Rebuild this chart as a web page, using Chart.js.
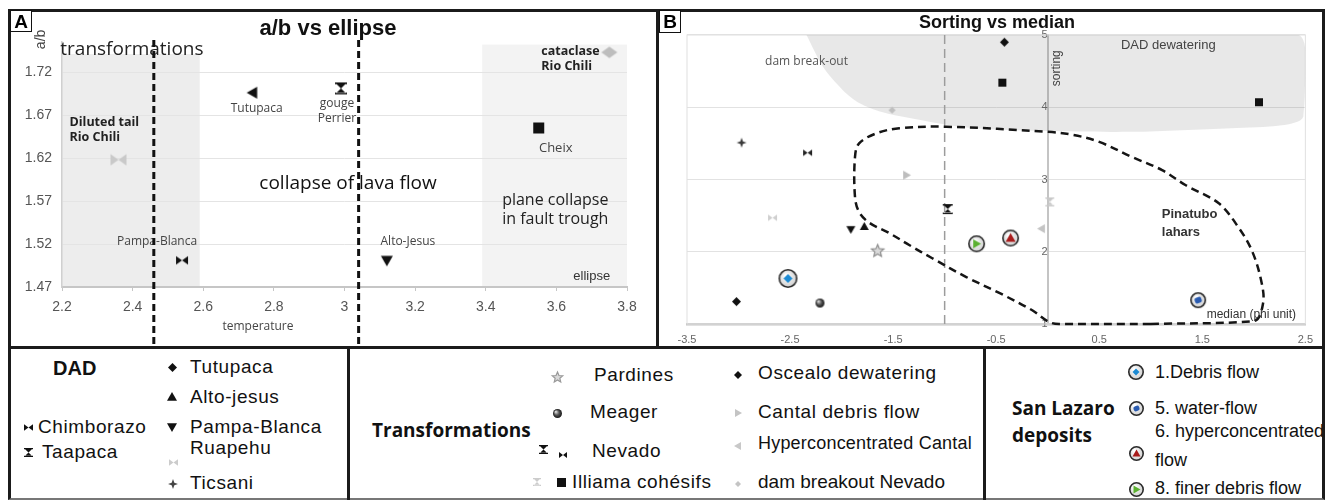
<!DOCTYPE html>
<html lang="en">
<head>
<meta charset="UTF-8">
<title>a/b vs ellipse - Sorting vs median</title>
<script src="https://cdn.jsdelivr.net/npm/chart.js@4.4.0/dist/chart.umd.min.js"></script>
<style>
  body { margin: 0; background: #fff; width: 1333px; height: 502px; position: relative; overflow: hidden;
         font-family: Arial, "Liberation Sans", sans-serif; }
  .frame { position: absolute; left: 8px; top: 9px; width: 1317px; height: 491px; box-sizing: border-box;
           border: 3px solid #1b1b1b; border-bottom: 2px solid #777; z-index: 5; }
  .bar { position: absolute; background: #1b1b1b; z-index: 5; }
  .tag { position: absolute; top: 10px; width: 20px; height: 20px; border: 1.5px solid #111; background: #fff;
         font: bold 19px Arial, sans-serif; line-height: 21px; text-align: center; z-index: 6; }
  .chartbox { position: absolute; top: 12px; height: 334px; }
  .lg { position: absolute; white-space: nowrap; color: #111; font-size: 19px; line-height: 22px; letter-spacing: 0.6px; z-index: 4; }
  .lgi { position: absolute; z-index: 4; }
</style>
</head>
<body>
<div class="frame"></div>
<div class="bar" style="left:8px; top:346px; width:1317px; height:3px;"></div>
<div class="bar" style="left:656px; top:9px; width:3px; height:340px;"></div>
<div class="bar" style="left:347px; top:346px; width:2.5px; height:154px;"></div>
<div class="bar" style="left:983px; top:346px; width:2.5px; height:154px;"></div>
<div class="tag" style="left:10px;">A</div>
<div class="tag" style="left:659px; height:21px;">B</div>

<div class="chartbox" style="left:11px; width:645px;"><canvas id="chartA"></canvas></div>
<div class="chartbox" style="left:659px; width:663px;"><canvas id="chartB"></canvas></div>
<div id="legend"></div>

<script>
    // ---------- panel A : a/b vs ellipse ----------
    const aXTicks = [2.2, 2.4, 2.6, 2.8, 3, 3.2, 3.4, 3.6, 3.8];
    const aYTicks = [1.47, 1.52, 1.57, 1.62, 1.67, 1.72];
    const aNames = ['Diluted tail Rio Chili', 'Pampa-Blanca', 'Tutupaca', 'gouge Perrier', 'Alto-Jesus', 'Cheix', 'cataclase Rio Chili'];
    const aX = [2.36, 2.54, 2.74, 2.99, 3.12, 3.55, 3.75];
    const aY = [1.618, 1.501, 1.696, 1.701, 1.501, 1.655, 1.743];
    // grey domains and dashed limits
    const aBandFrom = [2.2, 3.39];
    const aBandTo = [2.59, 3.8];
    const aBandTop = [1.741, 1.752];
    const aLimits = [2.46, 3.04];

    // ---------- panel B : Sorting vs median ----------
    const bXTicks = [-3.5, -2.5, -1.5, -0.5, 0.5, 1.5, 2.5];
    const bYTicks = [1, 2, 3, 4, 5];
    const bNames = ['Tutupaca', 'Meager', '1.Debris flow', 'Ruapehu', 'Pampa-Blanca', 'Alto-jesus', 'Pardines',
        'Ticsani', 'Chimborazo', 'dam breakout Nevado', 'Cantal debris flow', 'Nevado', 'Oscealo dewatering',
        'Illiama cohésifs', 'Illiama cohésifs', 'Illiama cohésifs', 'Hyperconcentrated Cantal',
        '8. finer debris flow', '6. hyperconcentrated flow', '5. water-flow'];
    const bX = [-3.02, -2.21, -2.52, -2.67, -1.91, -1.78, -1.65, -2.97, -2.33, -1.51, -1.37, -0.97, -0.42,
        -0.44, 2.05, 0.02, -0.06, -0.69, -0.36, 1.46];
    const bY = [1.31, 1.29, 1.63, 2.47, 2.31, 2.35, 2.01, 3.51, 3.37, 3.96, 3.06, 2.59, 4.90,
        4.34, 4.07, 2.69, 2.32, 2.11, 2.19, 1.33];
    // Pinatubo lahars envelope
    const pinX = [1.0, 2.0, 2.09, 2.07, 1.98, 1.85, 1.66, 1.34, 1.11, 0.82, 0.5, 0.24, 0.0, -0.98, -1.44, -1.66,
        -1.83, -1.87, -1.87, -1.83, -1.73, -1.54, -1.34, -1.12, -0.79, -0.47, -0.15, 0.01, 0.11, 1.0];
    const pinY = [1.0, 1.04, 1.29, 1.61, 2.02, 2.34, 2.67, 2.92, 3.13, 3.31, 3.52, 3.62, 3.66, 3.73, 3.71, 3.64,
        3.5, 3.31, 2.76, 2.55, 2.40, 2.26, 2.09, 1.91, 1.65, 1.43, 1.19, 1.03, 1.0, 1.0];
    // DAD dewatering domain
    const damX = [-2.34, -2.18, -1.99, -1.83, -1.60, -1.34, -0.79, 0.0, 0.82, 1.78, 2.27, 2.48, 2.5, 2.43, -2.34];
    const damY = [5.0, 4.56, 4.24, 4.06, 3.93, 3.85, 3.72, 3.67, 3.66, 3.71, 3.75, 3.87, 4.8, 5.0, 5.0];
    const bSplit = -1;

    // ---------- marker drawing ----------
    function poly(g, pts) {
        g.moveTo(pts[0][0], pts[0][1]);
        for (let i = 1; i < pts.length; i++) g.lineTo(pts[i][0], pts[i][1]);
        g.closePath();
    }

    function icon(kind, size, color, ring) {
        const dim = Math.ceil(Math.max(size, ring || 0)) + 4;
        const c = document.createElement('canvas');
        c.width = dim; c.height = dim;
        const g = c.getContext('2d');
        const m = dim / 2, r = size / 2;
        if (ring) {
            const gr = g.createRadialGradient(m - 2, m - 3, 1, m, m, ring / 2);
            gr.addColorStop(0, '#ffffff');
            gr.addColorStop(1, '#cdcdcd');
            g.beginPath();
            g.arc(m, m, ring / 2 - 0.8, 0, Math.PI * 2);
            g.fillStyle = gr; g.fill();
            g.lineWidth = 1.6; g.strokeStyle = '#2b2b2b'; g.stroke();
        }
        g.fillStyle = color;
        g.strokeStyle = color;
        g.beginPath();
        if (kind === 'diamond') poly(g, [[m, m - r], [m + r, m], [m, m + r], [m - r, m]]);
        else if (kind === 'wdiamond') poly(g, [[m, m - r * 0.72], [m + r, m], [m, m + r * 0.72], [m - r, m]]);
        else if (kind === 'square') g.rect(m - r, m - r, size, size);
        else if (kind === 'up') poly(g, [[m, m - r], [m + r, m + r * 0.75], [m - r, m + r * 0.75]]);
        else if (kind === 'down') poly(g, [[m - r, m - r * 0.75], [m + r, m - r * 0.75], [m, m + r]]);
        else if (kind === 'left') poly(g, [[m - r, m], [m + r * 0.75, m - r], [m + r * 0.75, m + r]]);
        else if (kind === 'right') poly(g, [[m + r, m], [m - r * 0.75, m - r], [m - r * 0.75, m + r]]);
        else if (kind === 'bowtie') {
            poly(g, [[m - r, m - r * 0.72], [m, m], [m - r, m + r * 0.72]]);
            poly(g, [[m + r, m - r * 0.72], [m, m], [m + r, m + r * 0.72]]);
        } else if (kind === 'hourglass') {
            poly(g, [[m - r * 0.8, m - r * 0.8], [m + r * 0.8, m - r * 0.8], [m, m]]);
            poly(g, [[m - r * 0.8, m + r * 0.8], [m + r * 0.8, m + r * 0.8], [m, m]]);
            g.rect(m - r, m - r, size, r * 0.3);
            g.rect(m - r, m + r * 0.7, size, r * 0.3);
        } else if (kind === 'star4' || kind === 'star5') {
            const n = kind === 'star4' ? 4 : 5, inner = kind === 'star4' ? 0.38 : 0.45;
            const pts = [];
            for (let k = 0; k < n * 2; k++) {
                const a = -Math.PI / 2 + k * Math.PI / n, rr = k % 2 ? r * inner : r;
                pts.push([m + rr * Math.cos(a), m + rr * Math.sin(a)]);
            }
            poly(g, pts);
            if (kind === 'star5') {
                g.fillStyle = '#dadada'; g.fill();
                g.lineWidth = 1.2; g.stroke();
                return c;
            }
        } else if (kind === 'sphere') {
            const gr = g.createRadialGradient(m - r * 0.4, m - r * 0.4, 0.5, m, m, r);
            gr.addColorStop(0, '#d8d8d8');
            gr.addColorStop(0.5, '#555');
            gr.addColorStop(1, '#151515');
            g.arc(m, m, r, 0, Math.PI * 2);
            g.fillStyle = gr;
        } else if (kind === 'rrect') {
            g.save();
            g.translate(m, m); g.rotate(-0.35);
            g.roundRect(-r, -r * 0.85, size, size * 0.85, 2);
            g.restore();
        }
        g.fill();
        return c;
    }

    const aIcons = [icon('bowtie', 16, '#c9c9c9'), icon('bowtie', 12, '#111'), icon('left', 12, '#111'),
        icon('hourglass', 12, '#111'), icon('down', 12, '#111'), icon('square', 11, '#111'), icon('wdiamond', 16, '#bdbdbd')];

    const bIcons = [icon('diamond', 9, '#111'), icon('sphere', 9, '#333'), icon('diamond', 9, '#1c8ad3', 19),
        icon('bowtie', 9, '#cfcfcf'), icon('down', 9, '#111'), icon('up', 9, '#111'), icon('star5', 13, '#8c8c8c'),
        icon('star4', 10, '#3a3a3a'), icon('bowtie', 9, '#222'), icon('diamond', 7, '#bfbfbf'), icon('right', 9, '#bdbdbd'),
        icon('hourglass', 10, '#111'), icon('diamond', 9, '#111'), icon('square', 8, '#111'), icon('square', 8, '#111'),
        icon('hourglass', 9, '#c8c8c8'), icon('left', 9, '#c4c4c4'), icon('right', 9, '#5bb030', 17),
        icon('up', 10, '#a81b1b', 17), icon('rrect', 7, '#2a5bb0', 16)];

    // ---------- text helpers ----------
    function text(g, s, x, y, font, color, align, rot) {
        g.save();
        g.font = font;
        g.fillStyle = color;
        g.textAlign = align || 'center';
        g.textBaseline = 'middle';
        g.translate(x, y);
        if (rot) g.rotate(rot);
        g.fillText(s, 0, 0);
        g.restore();
    }

    const myriad = '"Open Sans", "Noto Sans", sans-serif';
    // point labels in panel A: lines, offset from the marker, font
    const aLabels = [
        { lines: ['Diluted tail', 'Rio Chili'], dx: -49, dy: -37, align: 'left', font: 'bold 12.5px ' + myriad, color: '#222' },
        { lines: ['Pampa-Blanca'], dx: -25, dy: -19, font: '12px ' + myriad, color: '#444' },
        { lines: ['Tutupaca'], dx: 4, dy: 16, font: '12px ' + myriad, color: '#444' },
        { lines: ['gouge', 'Perrier'], dx: -4, dy: 15, font: '12px ' + myriad, color: '#444' },
        { lines: ['Alto-Jesus'], dx: 21, dy: -19, font: '12px ' + myriad, color: '#444' },
        { lines: ['Cheix'], dx: 17, dy: 20, font: '13px ' + myriad, color: '#444' },
        { lines: ['cataclase', 'Rio Chili'], dx: -68, dy: -1, align: 'left', font: 'bold 12.5px ' + myriad, color: '#222' }
    ];
    const aNotes = [
        { t: 'transformations', x: 2.398, y: 1.7466, font: '19px ' + myriad, color: '#222' },
        { t: 'collapse of lava flow', x: 3.01, y: 1.590, font: '19px ' + myriad, color: '#111' },
        { t: 'plane collapse', x: 3.597, y: 1.5707, font: '16px ' + myriad, color: '#222' },
        { t: 'in fault trough', x: 3.597, y: 1.5487, font: '16px ' + myriad, color: '#222' },
        { t: 'ellipse', x: 3.70, y: 1.4827, font: '13px Arial', color: '#333' },
        { t: 'temperature', x: 2.755, y: 1.4237, font: '12px ' + myriad, color: '#444' }
    ];

    const deckA = {
        id: 'deckA',
        beforeDraw(ch) {
            const { ctx, scales: { x, y } } = ch;
            const fills = ['#ededed', '#f3f3f3'];
            aBandFrom.forEach((x0, i) => {
                const l = x.getPixelForValue(x0), r = x.getPixelForValue(aBandTo[i]);
                const t = y.getPixelForValue(aBandTop[i]), b = y.getPixelForValue(aYTicks[0]);
                ctx.fillStyle = fills[i];
                ctx.fillRect(l, t, r - l, b - t);
            });
        },
        afterDatasetsDraw(ch) {
            const { ctx, scales: { x, y }, chartArea } = ch;
            const pts = ch.getDatasetMeta(0).data;
            aLabels.forEach((lab, i) => {
                lab.lines.forEach((s, k) => {
                    text(ctx, s, pts[i].x + lab.dx, pts[i].y + lab.dy + k * 15, lab.font, lab.color, lab.align);
                });
            });
            aNotes.forEach(n => text(ctx, n.t, x.getPixelForValue(n.x), y.getPixelForValue(n.y), n.font, n.color));
            text(ctx, 'a/b', x.getPixelForValue(2.14), y.getPixelForValue(1.758), '14px Arial', '#444', 'center', -Math.PI / 2);
            // panel title, centred on the panel
            text(ctx, 'a/b vs ellipse', 317, 17, 'bold 22px Arial', '#111');
            ctx.save();
            ctx.strokeStyle = '#111';
            ctx.lineWidth = 3;
            ctx.setLineDash([7, 4]);
            aLimits.forEach(v => {
                const px = x.getPixelForValue(v);
                ctx.beginPath();
                ctx.moveTo(px, chartArea.top - 2);
                ctx.lineTo(px, ch.height);
                ctx.stroke();
            });
            ctx.restore();
        }
    };

    const bNotes = [
        { t: 'dam break-out', x: -2.34, y: 4.63, font: '12px ' + myriad, color: '#555' },
        { t: 'DAD dewatering', x: 1.17, y: 4.85, font: '13px Arial', color: '#444' },
        { t: 'Pinatubo', x: 1.107, y: 2.51, align: 'left', font: 'bold 13px Arial', color: '#333' },
        { t: 'lahars', x: 1.107, y: 2.27, align: 'left', font: 'bold 13px Arial', color: '#333' },
        { t: 'median (phi unit)', x: 2.41, y: 1.125, align: 'right', font: '12px Arial', color: '#333' }
    ];

    const deckB = {
        id: 'deckB',
        beforeDatasetsDraw(ch) {
            const { ctx, chartArea: a } = ch;
            ctx.save();
            ctx.strokeStyle = '#e0e0e0';
            ctx.lineWidth = 1;
            ctx.strokeRect(a.left, a.top, a.right - a.left, a.bottom - a.top);
            ctx.restore();
        },
        afterDatasetsDraw(ch) {
            const { ctx, scales: { x, y } } = ch;
            bNotes.forEach(n => text(ctx, n.t, x.getPixelForValue(n.x), y.getPixelForValue(n.y), n.font, n.color, n.align));
            text(ctx, 'sorting', x.getPixelForValue(0.09), y.getPixelForValue(4.54), '12px Arial', '#444', 'center', -Math.PI / 2);
        }
    };

    Chart.defaults.font.family = 'Arial, "Liberation Sans", sans-serif';
    const fmt = v => String(v);

    new Chart(document.getElementById('chartA'), {
        type: 'scatter',
        data: {
            datasets: [{
                label: 'a/b',
                data: aX.map((v, i) => ({ x: v, y: aY[i] })),
                pointStyle: c => aIcons[c.dataIndex],
                pointRadius: 7,
                clip: false
            }]
        },
        options: {
            responsive: true,
            maintainAspectRatio: false,
            animation: false,
            events: [],
            devicePixelRatio: 1,
            layout: { padding: { left: 0, right: 29, top: 30, bottom: 0 } },
            plugins: {
                legend: { display: false },
                tooltip: { enabled: false },
                title: { display: false }
            },
            scales: {
                x: {
                    type: 'linear', min: 2.2, max: 3.8,
                    afterBuildTicks: s => { s.ticks = aXTicks.map(v => ({ value: v })); },
                    afterFit: s => { s.height = 59; },
                    grid: { drawOnChartArea: false, drawTicks: true, tickLength: 4, color: '#c6c6c6' },
                    border: { color: '#c6c6c6', width: 2 },
                    ticks: { autoSkip: false, maxRotation: 0, padding: 8, color: '#555', font: { size: 14 }, callback: fmt }
                },
                y: {
                    type: 'linear', min: 1.47, max: 1.755,
                    afterBuildTicks: s => { s.ticks = aYTicks.map(v => ({ value: v })); },
                    afterFit: s => { s.width = 51; },
                    grid: { color: '#e4e4e4', drawTicks: false },
                    border: { color: '#d0d0d0', width: 1.5 },
                    ticks: { autoSkip: false, padding: 10, color: '#555', font: { size: 14 }, callback: fmt }
                }
            }
        },
        plugins: [deckA]
    });

    new Chart(document.getElementById('chartB'), {
        type: 'scatter',
        data: {
            datasets: [
                {
                    label: 'samples',
                    data: bX.map((v, i) => ({ x: v, y: bY[i] })),
                    pointStyle: c => bIcons[c.dataIndex],
                    pointRadius: 7,
                    clip: false,
                    order: 0
                },
                {
                    label: 'Pinatubo lahars',
                    data: pinX.map((v, i) => ({ x: v, y: pinY[i] })),
                    showLine: true, pointRadius: 0, tension: 0.35,
                    borderColor: '#151515', borderWidth: 2.5, borderDash: [8, 5],
                    clip: false, order: 1
                },
                {
                    label: 'median split',
                    data: [{ x: bSplit, y: bYTicks[0] }, { x: bSplit, y: bYTicks[bYTicks.length - 1] }],
                    showLine: true, pointRadius: 0,
                    borderColor: '#9c9c9c', borderWidth: 1.5, borderDash: [9, 5],
                    order: 2
                },
                {
                    label: 'DAD dewatering',
                    data: damX.map((v, i) => ({ x: v, y: damY[i] })),
                    showLine: true, pointRadius: 0, tension: 0.3,
                    fill: 'shape', backgroundColor: 'rgba(110,110,110,0.16)', borderColor: 'rgba(0,0,0,0)',
                    order: 3
                }
            ]
        },
        options: {
            responsive: true,
            maintainAspectRatio: false,
            animation: false,
            events: [],
            devicePixelRatio: 1,
            layout: { padding: { left: 28, right: 15, top: 0, bottom: 0 } },
            plugins: {
                legend: { display: false },
                tooltip: { enabled: false },
                title: {
                    display: true, text: 'Sorting vs median', color: '#111',
                    font: { size: 18, weight: 'bold' }, padding: { top: 0, bottom: 1.4 }
                }
            },
            scales: {
                x: {
                    type: 'linear', min: -3.5, max: 2.5,
                    afterBuildTicks: s => { s.ticks = bXTicks.map(v => ({ value: v })); },
                    afterFit: s => { s.height = 22; },
                    grid: { display: false, drawTicks: false },
                    border: { color: '#c4c4c4', width: 2.5 },
                    ticks: { autoSkip: false, maxRotation: 0, padding: 9, color: '#666', font: { size: 11 }, callback: fmt }
                },
                y: {
                    type: 'linear', min: 1, max: 5, position: { x: 0 },
                    afterBuildTicks: s => { s.ticks = bYTicks.map(v => ({ value: v })); },
                    grid: { color: '#e2e2e2', drawTicks: false },
                    border: { color: '#c4c4c4', width: 2 },
                    ticks: { autoSkip: false, padding: 8, color: '#666', font: { size: 11 }, callback: fmt }
                }
            }
        },
        plugins: [deckB]
    });

    // ---------- legend boxes ----------
    const legendItems = [
        { t: 'DAD', tx: 53, ty: 368, font: 'bold 20px Arial', ls: 0 },
        { t: 'Tutupaca', tx: 190, ty: 367, ic: icon('diamond', 9, '#111'), ix: 172, iy: 367 },
        { t: 'Alto-jesus', tx: 190, ty: 397, ic: icon('up', 10, '#111'), ix: 172, iy: 397 },
        { t: 'Pampa-Blanca', tx: 190, ty: 427, ic: icon('down', 10, '#111'), ix: 172, iy: 427 },
        { t: 'Ruapehu', tx: 190, ty: 448, ic: icon('bowtie', 9, '#cccccc'), ix: 173, iy: 462 },
        { t: 'Ticsani', tx: 190, ty: 483, ic: icon('star4', 10, '#444'), ix: 173, iy: 484 },
        { t: 'Chimborazo', tx: 38, ty: 427, ic: icon('bowtie', 9, '#111'), ix: 28, iy: 427 },
        { t: 'Taapaca', tx: 42, ty: 452, ic: icon('hourglass', 9, '#111'), ix: 28, iy: 452 },

        { t: 'Transformations', tx: 372, ty: 430, font: 'bold 19px ' + myriad, ls: 0 },
        { t: 'Pardines', tx: 594, ty: 375, ic: icon('star5', 11, '#999'), ix: 557, iy: 377 },
        { t: 'Meager', tx: 590, ty: 412, ic: icon('sphere', 9, '#333'), ix: 557, iy: 413 },
        { t: 'Nevado', tx: 592, ty: 451, ic: icon('hourglass', 9, '#111'), ix: 543, iy: 449 },
        { ic: icon('bowtie', 8, '#111'), ix: 563, iy: 455 },
        { t: 'Illiama cohésifs', tx: 572, ty: 482, ic: icon('hourglass', 8, '#cccccc'), ix: 537, iy: 482 },
        { ic: icon('square', 9, '#111'), ix: 561, iy: 482 },
        { t: 'Oscealo dewatering', tx: 758, ty: 373, ic: icon('diamond', 8, '#111'), ix: 738, iy: 375 },
        { t: 'Cantal debris flow', tx: 758, ty: 412, ic: icon('right', 8, '#c4c4c4'), ix: 738, iy: 413 },
        { t: 'Hyperconcentrated Cantal', tx: 758, ty: 443, font: '18px Arial', ls: 0.2, ic: icon('left', 8, '#c8c8c8'), ix: 738, iy: 446 },
        { t: 'dam breakout Nevado', tx: 758, ty: 482, ls: 0, ic: icon('diamond', 6, '#c4c4c4'), ix: 738, iy: 484 },

        { t: 'San Lazaro', tx: 1012, ty: 408, font: 'bold 19px ' + myriad, ls: 0 },
        { t: 'deposits', tx: 1012, ty: 435, font: 'bold 19px ' + myriad, ls: 0 },
        { t: '1.Debris flow', tx: 1155, ty: 372, font: '18px Arial', ls: 0, ic: icon('diamond', 7, '#1c8ad3', 16), ix: 1136, iy: 372 },
        { t: '5. water-flow', tx: 1155, ty: 408, font: '18px Arial', ls: 0, ic: icon('rrect', 6, '#2a5bb0', 15), ix: 1136, iy: 408 },
        { t: '6. hyperconcentrated', tx: 1155, ty: 431, font: '18px Arial', ls: 0 },
        { t: 'flow', tx: 1155, ty: 460, font: '18px Arial', ls: 0, ic: icon('up', 8, '#a81b1b', 15), ix: 1136, iy: 453 },
        { t: '8. finer debris flow', tx: 1155, ty: 488, font: '18px Arial', ls: 0, ic: icon('right', 8, '#5bb030', 15), ix: 1136, iy: 489 }
    ];

    const box = document.getElementById('legend');
    legendItems.forEach(it => {
        if (it.ic) {
            it.ic.className = 'lgi';
            it.ic.style.left = (it.ix - it.ic.width / 2) + 'px';
            it.ic.style.top = (it.iy - it.ic.height / 2) + 'px';
            box.appendChild(it.ic);
        }
        if (it.t) {
            const d = document.createElement('div');
            d.className = 'lg';
            d.textContent = it.t;
            if (it.font) d.style.font = it.font;
            d.style.lineHeight = '22px';
            if (it.ls !== undefined) d.style.letterSpacing = it.ls + 'px';
            d.style.left = it.tx + 'px';
            d.style.top = (it.ty - 11) + 'px';
            box.appendChild(d);
        }
    });
</script>
</body>
</html>
